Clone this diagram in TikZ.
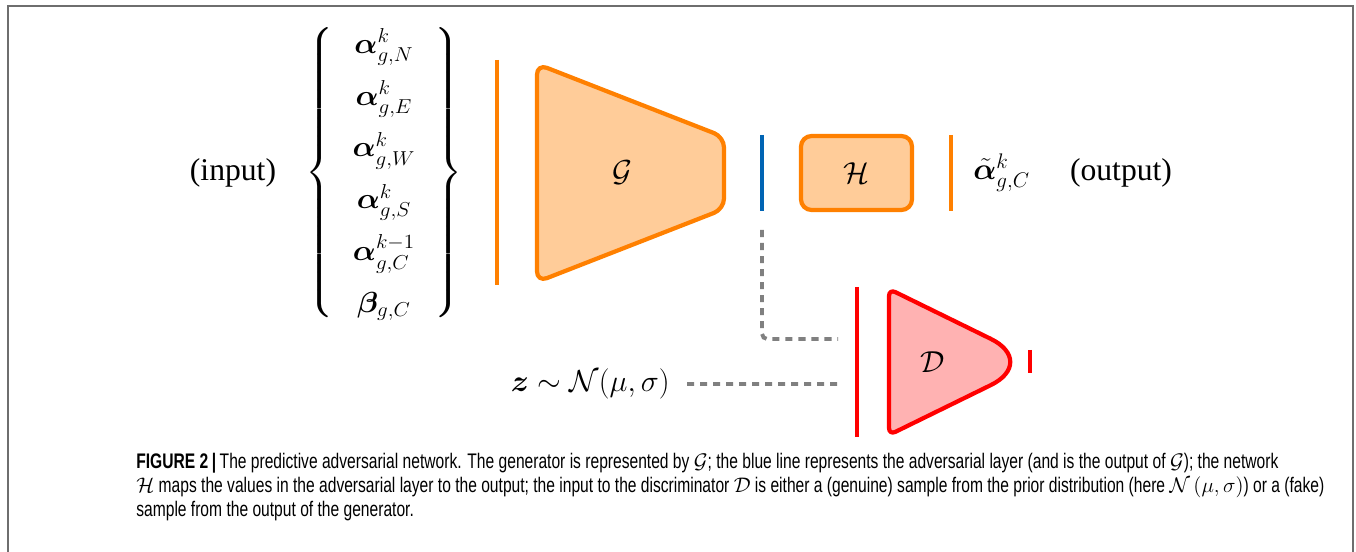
\documentclass[tikz,border=0pt]{standalone}
\usepackage{amsmath,amssymb}
\usepackage{bm}
\usepackage{fontspec}
\newfontfamily\capfont[FakeStretch=0.74]{Liberation Sans}
\newfontfamily\lblfont{Liberation Serif}
\usetikzlibrary{calc}
\definecolor{genor}{RGB}{255,128,0}
\definecolor{genfill}{RGB}{255,204,153}
\definecolor{advblue}{RGB}{0,100,180}
\definecolor{discred}{RGB}{255,0,0}
\definecolor{discfill}{RGB}{255,178,178}
\definecolor{feedgray}{RGB}{128,128,128}
\definecolor{framegray}{RGB}{110,110,110}

\begin{document}
\begin{tikzpicture}[
    bigtxt/.style={inner sep=0pt, font=\fontsize{18}{21.6}\selectfont},
    bar/.style={line width=2.2pt, draw=#1},
    netbox/.style={draw=genor, fill=genfill, line width=2.4pt, rounded corners=6pt},
    discbox/.style={draw=discred, fill=discfill, line width=2.4pt},
    feed/.style={draw=feedgray, line width=2.2pt, dash pattern=on 4pt off 3.4pt},
    capt/.style={inner sep=0pt, align=left, font=\capfont\fontsize{12}{13.7}\selectfont}
]
\useasboundingbox (0,0) rectangle (27.12,-11.04);
\draw[framegray, line width=1.1pt] (0.16,-11.04) -- (0.16,-0.12) -- (27.06,-0.12) -- (27.06,-11.04);

\node[bigtxt] (inlbl) at (4.66,-3.45) {\lblfont (input)};
\node[bigtxt, transform shape, yscale=0.955] (invec) at (7.68,-3.45) {\renewcommand{\arraystretch}{1.43}\delimitershortfall=15pt
  $\left\{\hspace{6pt}\begin{array}{c}
    \bm{\alpha}^k_{g,N}\\
    \bm{\alpha}^k_{g,E}\\
    \bm{\alpha}^k_{g,W}\\
    \bm{\alpha}^k_{g,S}\\
    \bm{\alpha}^{k-1}_{g,C}\\
    \bm{\beta}_{g,C}
  \end{array}\hspace{6pt}\right\}$};

\coordinate (inA) at (9.94,-1.20);
\coordinate (inB) at (9.94,-5.70);
\draw[bar=genor] (inA) -- (inB);
\draw[netbox] (10.74,-1.28) -- (14.48,-2.74) -- (14.48,-4.18) -- (10.74,-5.64) -- cycle;
\node[bigtxt] (gen) at (12.44,-3.46) {$\mathcal{G}$};

\coordinate (advA) at (15.24,-2.70);
\coordinate (advB) at (15.24,-4.22);
\draw[bar=advblue] (advA) -- (advB);
\node[netbox, minimum width=2.22cm, minimum height=1.48cm, font=\fontsize{18}{21.6}\selectfont] (hid) at (17.13,-3.46) {$\mathcal{H}$};

\coordinate (outA) at (19.02,-2.70);
\coordinate (outB) at (19.02,-4.22);
\draw[bar=genor] (outA) -- (outB);
\node[bigtxt, anchor=west] (outvec) at (19.46,-3.45) {$\tilde{\bm{\alpha}}^k_{g,C}$};
\node[bigtxt] (outlbl) at (22.42,-3.45) {\lblfont (output)};

\coordinate (dinA) at (17.14,-5.74);
\coordinate (dinB) at (17.14,-8.74);
\coordinate (dhigh) at ($(dinA)!0.347!(dinB)$);
\coordinate (dlow) at ($(dinA)!0.647!(dinB)$);
\draw[bar=discred] (dinA) -- (dinB);
\draw[discbox] (17.78,-7.24) [rounded corners=4pt] -- (17.78,-5.78) [rounded corners=30pt] -- (20.76,-7.24) [rounded corners=4pt] -- (17.78,-8.70) -- cycle;
\node[bigtxt] (disc) at (18.66,-7.24) {$\mathcal{D}$};
\coordinate (doutA) at (20.60,-7.00);
\coordinate (doutB) at (20.60,-7.46);
\draw[bar=discred] (doutA) -- (doutB);

\node[bigtxt, anchor=east] (prior) at (13.40,-7.68) {$\bm{z}\sim\mathcal{N}(\mu,\sigma)$};
\draw[feed] ([xshift=0.34cm]prior.east) -- ([xshift=-0.38cm]dlow);
\draw[feed, rounded corners=3pt] ([yshift=-0.38cm]advB) |- ([xshift=-0.38cm]dhigh);

\node[capt, anchor=north west] (capt) at (2.72,-9.06) {\textbf{FIGURE 2\,|}\,The predictive adversarial network. The generator is represented by $\mathcal{G}$; the blue line represents the adversarial layer (and is the output of $\mathcal{G}$); the network\\
$\mathcal{H}$ maps the values in the adversarial layer to the output; the input to the discriminator $\mathcal{D}$ is either a (genuine) sample from the prior distribution (here $\mathcal{N}\left(\mu,\sigma\right)$) or a (fake)\\
sample from the output of the generator.};
\end{tikzpicture}
\end{document}
